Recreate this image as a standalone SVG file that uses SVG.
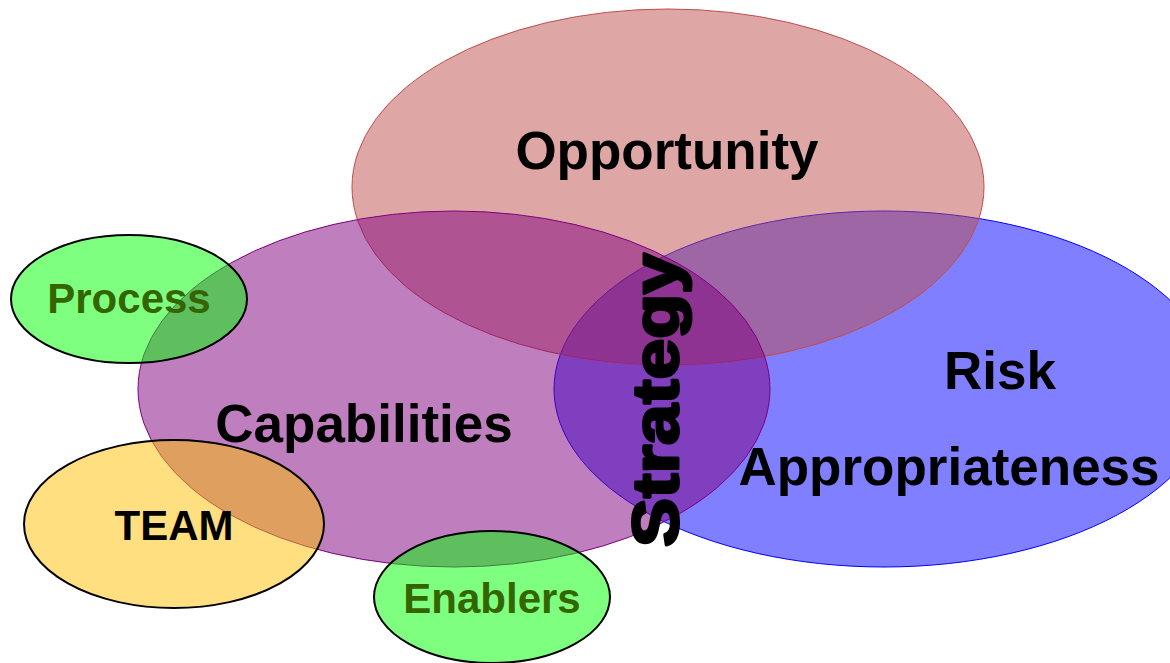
<svg xmlns="http://www.w3.org/2000/svg" width="1170" height="663" viewBox="0 0 1170 663">
<style>
.big{font-family:"Liberation Sans",Arial,sans-serif;font-weight:bold;font-size:53px;fill:#000}
.small{font-family:"Liberation Sans",Arial,sans-serif;font-weight:bold;font-size:42px}
.green{fill:#336600}
.sat{fill-opacity:0.5}
.edge{stroke:#000;stroke-width:2}
</style>
<rect width="1170" height="663" fill="#fff"/>
<g id="risk">
<ellipse cx="884" cy="389" rx="330" ry="178" fill="#0000FF" class="sat" stroke="#0000FF" stroke-width="1"/>
</g>
<g id="opportunity">
<ellipse cx="668" cy="187" rx="316" ry="178" fill="#C04D4D" class="sat" stroke="#C04D4D" stroke-width="1"/>
</g>
<g id="capabilities">
<ellipse cx="454" cy="389" rx="316" ry="178" fill="#800080" class="sat" stroke="#800080" stroke-width="1"/>
</g>
<g id="process">
<ellipse cx="129" cy="299" rx="118" ry="64" fill="#00FF00" class="sat edge"/>
</g>
<g id="team">
<ellipse cx="174" cy="524" rx="150" ry="84" fill="#FFC000" class="sat edge"/>
</g>
<g id="enablers">
<ellipse cx="492" cy="597" rx="118" ry="66" fill="#00FF00" class="sat edge"/>
</g>
<g id="labels">
<text class="big" x="667" y="169" text-anchor="middle">Opportunity</text>
<text class="big" x="364" y="442" text-anchor="middle">Capabilities</text>
<text class="big" x="1000" y="389" text-anchor="middle">Risk</text>
<text class="big" x="949" y="485" text-anchor="middle">Appropriateness</text>
<text class="small green" x="129" y="313" text-anchor="middle">Process</text>
<text class="small" x="174" y="540" text-anchor="middle" fill="#000">TEAM</text>
<text class="small green" x="492" y="613" text-anchor="middle">Enablers</text>
<text transform="translate(678,547) rotate(-90)" x="0" y="0" font-family="'Liberation Sans',Arial,sans-serif" font-weight="bold" font-size="65" fill="#000" stroke="#000" stroke-width="3" stroke-linejoin="round" textLength="294" lengthAdjust="spacingAndGlyphs">Strategy</text>
</g>
</svg>
